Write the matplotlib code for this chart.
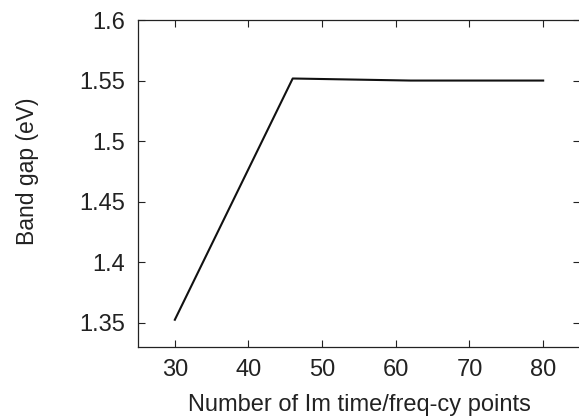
import matplotlib
matplotlib.use("Agg")
import matplotlib.pyplot as plt

# Band gap convergence vs number of imaginary time/frequency points
n_points = [30, 46, 62, 80]
band_gap = [1.3525, 1.5517, 1.5500, 1.5500]

x_ticks = [30, 40, 50, 60, 70, 80]
y_ticks = [1.35, 1.40, 1.45, 1.50, 1.55, 1.60]
y_tick_labels = ["1.35", "1.4", "1.45", "1.5", "1.55", "1.6"]

plt.rcParams["font.family"] = ["Liberation Sans", "DejaVu Sans"]

fig = plt.figure(figsize=(5.79, 4.18), dpi=100)
ax = fig.add_axes([138 / 579, 1 - 347 / 418, (580 - 138) / 579, (347 - 20) / 418])

ax.plot(n_points, band_gap, color="#111111", linewidth=1.5)

ax.set_xlim(25, 85)
ax.set_ylim(1.33, 1.60)
ax.set_xticks(x_ticks)
ax.set_yticks(y_ticks)
ax.set_yticklabels(y_tick_labels)
ax.tick_params(direction="in", top=True, right=True, length=5, width=0.8,
               labelsize=17, pad=9, colors="#222222")

for spine in ax.spines.values():
    spine.set_linewidth(0.9)
    spine.set_color("#222222")

ax.set_xlabel("Number of Im time/freq-cy points", fontsize=17, color="#222222", labelpad=9)
ax.set_ylabel("Band gap (eV)", fontsize=16.5, color="#222222", va="center")
ax.yaxis.set_label_coords(-0.251, 0.538)

fig.savefig("out.png", dpi=100)
